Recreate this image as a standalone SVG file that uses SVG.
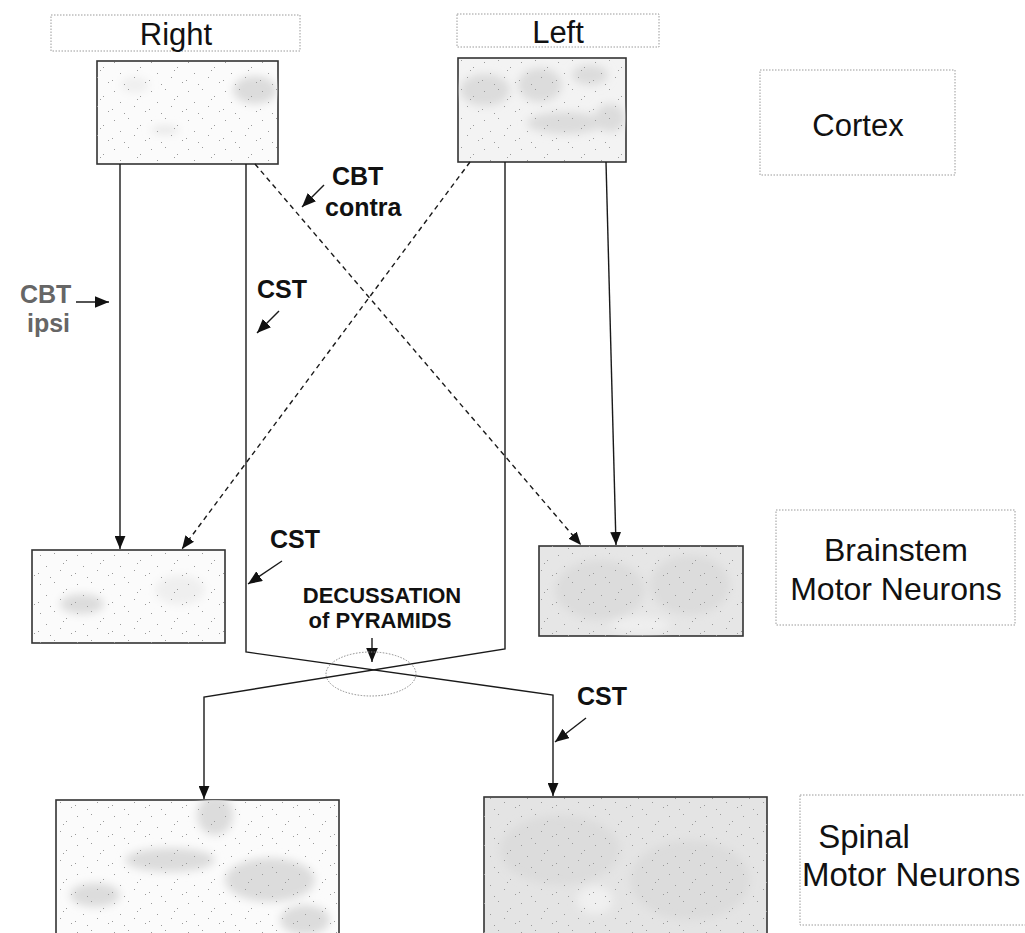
<svg xmlns="http://www.w3.org/2000/svg" width="1025" height="933" viewBox="0 0 1025 933">
<defs>
<style>
.lbl{fill:none;stroke:#9a9a9a;stroke-width:1;stroke-dasharray:1.5 1.5}
.img{stroke:#333;stroke-width:1.6}
.t{font-family:"Liberation Sans",Arial,sans-serif;fill:#111}
.big{font-size:31px}
.b{font-weight:bold;font-size:25px}
.c{stroke:#1a1a1a;stroke-width:1.4;fill:none}
.d{stroke-dasharray:5 4}
.blob{fill:#dcdcdc}
</style>
<pattern id="speck" width="37" height="29" patternUnits="userSpaceOnUse">
<g fill="#9a9a9a">
<rect x="3" y="4" width="1" height="1"/><rect x="17" y="2" width="1" height="1"/><rect x="29" y="9" width="1" height="1"/>
<rect x="9" y="15" width="1" height="1"/><rect x="23" y="19" width="1" height="1"/><rect x="34" y="24" width="1" height="1"/>
<rect x="13" y="26" width="1" height="1"/><rect x="1" y="22" width="1" height="1"/><rect x="26" y="12" width="1" height="1"/>
</g>
</pattern>
<marker id="ah" viewBox="0 0 12 10" refX="12" refY="5" markerWidth="13" markerHeight="11" markerUnits="userSpaceOnUse" orient="auto">
<path d="M0,0 L12,5 L0,10 z" fill="#111"/>
</marker>
<marker id="ahs" viewBox="0 0 12 10" refX="12" refY="5" markerWidth="14" markerHeight="12" markerUnits="userSpaceOnUse" orient="auto">
<path d="M0,0 L12,5 L0,10 z" fill="#111"/>
</marker>
<filter id="blur" x="-20%" y="-20%" width="140%" height="140%"><feGaussianBlur stdDeviation="4"/></filter>
<clipPath id="cp1"><rect x="97" y="61" width="181" height="103"/></clipPath>
<clipPath id="cp2"><rect x="458" y="58" width="168" height="104"/></clipPath>
<clipPath id="cp3"><rect x="32" y="550" width="193" height="93"/></clipPath>
<clipPath id="cp4"><rect x="539" y="546" width="204" height="90"/></clipPath>
<clipPath id="cp5"><rect x="56" y="800" width="283" height="140"/></clipPath>
<clipPath id="cp6"><rect x="484" y="797" width="283" height="140"/></clipPath>
</defs>
<rect width="1025" height="933" fill="#fff"/>

<g id="label-right"><rect class="lbl" x="51" y="15" width="249" height="36"/><text class="t big" x="176" y="45" text-anchor="middle">Right</text></g>
<g id="label-left"><rect class="lbl" x="457" y="14" width="202" height="33"/><text class="t big" x="558" y="43" text-anchor="middle">Left</text></g>
<g id="label-cortex"><rect class="lbl" x="760" y="70" width="195" height="105"/><text class="t big" x="858" y="136" text-anchor="middle">Cortex</text></g>
<g id="label-brainstem"><rect class="lbl" x="776" y="510" width="239" height="115"/><text class="t" font-size="32" x="896" y="561" text-anchor="middle">Brainstem</text><text class="t" font-size="32" x="896" y="600" text-anchor="middle">Motor Neurons</text></g>
<g id="label-spinal"><rect class="lbl" x="800" y="795" width="240" height="130"/><text class="t" font-size="33" x="864" y="848" text-anchor="middle">Spinal</text><text class="t" font-size="33" x="802" y="886">Motor Neurons</text></g>

<g id="cortex-right"><rect class="img" x="97" y="61" width="181" height="103" fill="#fbfbfb"/>
<g clip-path="url(#cp1)"><g filter="url(#blur)"><ellipse class="blob" cx="255" cy="90" rx="22" ry="14"/><ellipse cx="165" cy="130" rx="14" ry="4" fill="#e6e6e6"/><ellipse cx="135" cy="85" rx="14" ry="8" fill="#efefef"/></g><rect x="97" y="61" width="181" height="103" fill="url(#speck)"/></g></g>
<g id="cortex-left"><rect class="img" x="458" y="58" width="168" height="104" fill="#f3f3f3"/>
<g clip-path="url(#cp2)"><g filter="url(#blur)"><ellipse class="blob" cx="485" cy="90" rx="25" ry="16"/><ellipse class="blob" cx="540" cy="85" rx="22" ry="17"/><ellipse class="blob" cx="565" cy="123" rx="38" ry="11"/><ellipse class="blob" cx="610" cy="118" rx="15" ry="14"/><ellipse class="blob" cx="590" cy="75" rx="18" ry="10"/></g><rect x="458" y="58" width="168" height="104" fill="url(#speck)"/></g></g>
<g id="brainstem-right"><rect class="img" x="32" y="550" width="193" height="93" fill="#fbfbfb"/>
<g clip-path="url(#cp3)"><g filter="url(#blur)"><ellipse class="blob" cx="82" cy="604" rx="22" ry="10"/><ellipse cx="180" cy="590" rx="25" ry="15" fill="#efefef"/></g><rect x="32" y="550" width="193" height="93" fill="url(#speck)"/></g></g>
<g id="brainstem-left"><rect class="img" x="539" y="546" width="204" height="90" fill="#e6e6e6"/>
<g clip-path="url(#cp4)"><g filter="url(#blur)"><ellipse class="blob" cx="600" cy="590" rx="45" ry="30"/><ellipse class="blob" cx="690" cy="585" rx="40" ry="30"/><ellipse cx="640" cy="625" rx="30" ry="8" fill="#efefef"/></g><rect x="539" y="546" width="204" height="90" fill="url(#speck)"/></g></g>
<g id="spinal-left"><rect class="img" x="56" y="800" width="283" height="140" fill="#fbfbfb"/>
<g clip-path="url(#cp5)"><g filter="url(#blur)"><ellipse class="blob" cx="215" cy="815" rx="18" ry="20"/><ellipse class="blob" cx="170" cy="860" rx="45" ry="12"/><ellipse class="blob" cx="270" cy="880" rx="45" ry="22"/><ellipse class="blob" cx="95" cy="895" rx="25" ry="12"/><ellipse class="blob" cx="305" cy="920" rx="25" ry="15"/></g><rect x="56" y="800" width="283" height="140" fill="url(#speck)"/></g></g>
<g id="spinal-right"><rect class="img" x="484" y="797" width="283" height="140" fill="#e4e4e4"/>
<g clip-path="url(#cp6)"><g filter="url(#blur)"><ellipse class="blob" cx="560" cy="850" rx="60" ry="35"/><ellipse class="blob" cx="690" cy="880" rx="60" ry="40"/><ellipse cx="595" cy="900" rx="18" ry="14" fill="#f0f0f0"/></g><rect x="484" y="797" width="283" height="140" fill="url(#speck)"/></g></g>

<g id="connectors">
<path class="c" d="M120,164 V549" marker-end="url(#ah)"/>
<path class="c" d="M246,164 V652 L553,695 V796" marker-end="url(#ah)"/>
<path class="c" d="M505,162 V649 L204,697 V799" marker-end="url(#ah)"/>
<path class="c" d="M606,162 L616,545" marker-end="url(#ah)"/>
<path class="c d" d="M255,164 L581,545" marker-end="url(#ah)"/>
<path class="c d" d="M470,162 L182,549" marker-end="url(#ah)"/>
<path class="c" d="M76,302 L109,302" marker-end="url(#ahs)"/>
<path class="c" d="M324,185 L302,207" marker-end="url(#ahs)"/>
<path class="c" d="M279,311 L257,333" marker-end="url(#ahs)"/>
<path class="c" d="M282,561 L248,584" marker-end="url(#ahs)"/>
<path class="c" d="M586,718 L555,742" marker-end="url(#ahs)"/>
<path class="c" d="M372,638 L372,662" marker-end="url(#ahs)"/>
<ellipse cx="371" cy="674" rx="45" ry="22" fill="none" stroke="#888" stroke-width="1" stroke-dasharray="1.5 1.5"/>
</g>

<g id="labels">
<text class="t b" x="20" y="303" style="fill:#666">CBT</text>
<text class="t b" x="27" y="332" style="fill:#666">ipsi</text>
<text class="t b" x="332" y="185">CBT</text>
<text class="t b" x="325" y="216">contra</text>
<text class="t b" x="257" y="298">CST</text>
<text class="t b" x="270" y="548">CST</text>
<text class="t b" x="577" y="705">CST</text>
<text class="t b" style="font-size:22px" x="382" y="603" text-anchor="middle">DECUSSATION</text>
<text class="t b" style="font-size:22px" x="380" y="628" text-anchor="middle">of PYRAMIDS</text>
</g>
</svg>
